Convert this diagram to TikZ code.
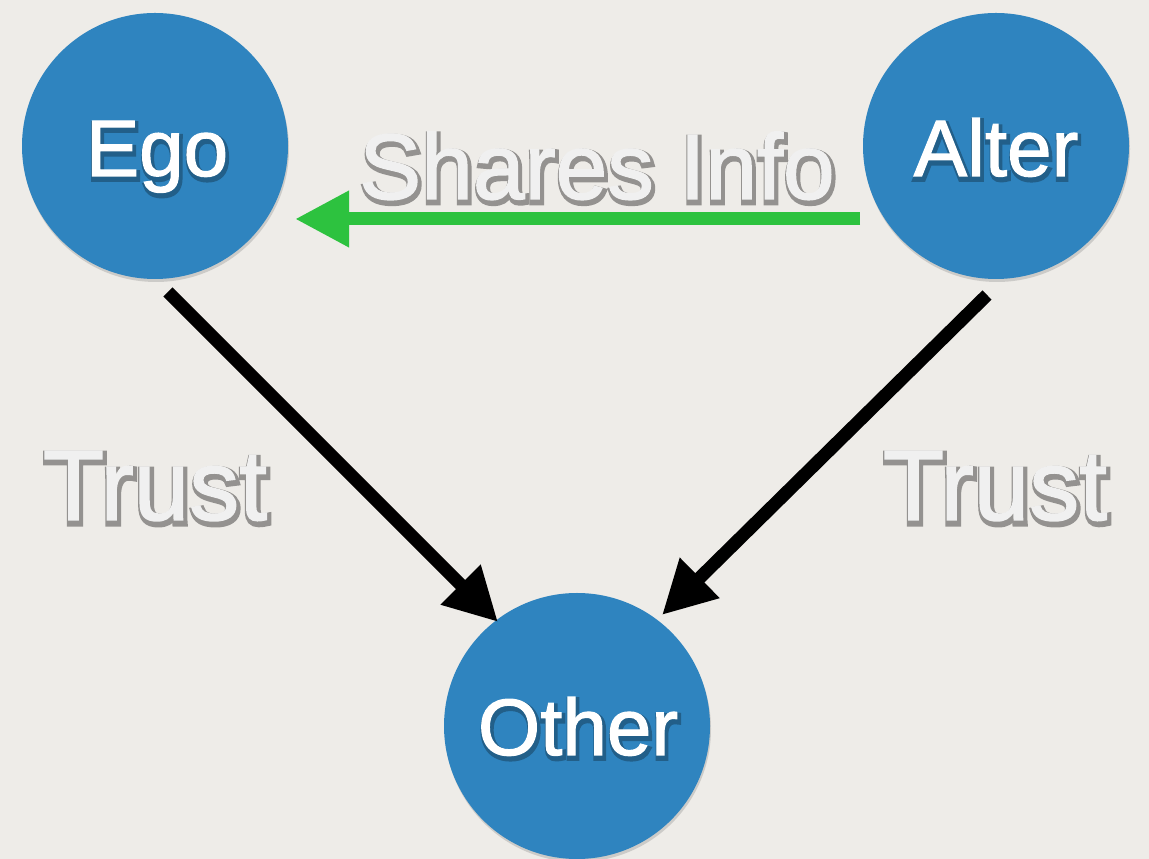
\documentclass[tikz,border=0pt]{standalone}
\usepackage{fontspec}
\setmainfont{Liberation Sans}
\newfontfamily\labelfont[FakeBold=1.5]{Liberation Sans}
\newfontfamily\haloFont[FakeBold=7]{Liberation Sans}
\usetikzlibrary{arrows.meta,shadows}
\definecolor{paper}{HTML}{EEECE8}
\definecolor{nodeblue}{HTML}{2F84BF}
\definecolor{infogreen}{HTML}{2DC23F}
\definecolor{labelgray}{HTML}{F0F0F0}
\newcommand\shadowtext[2]{%
  \rlap{\kern1.5pt\raisebox{-3pt}{\haloFont\textcolor{#1}{#2}}}%
  #2}
\tikzset{
  person/.style={circle, fill=nodeblue, minimum size=266pt, inner sep=0pt,
    drop shadow={shadow xshift=1pt, shadow yshift=-3pt, opacity=0.3}},
  namelbl/.style={anchor=base, text=white, inner sep=0pt,
    font=\labelfont\fontsize{80pt}{80pt}\selectfont},
  edgelbl/.style={anchor=base, text=labelgray, inner sep=0pt,
    font=\labelfont\fontsize{100pt}{100pt}\selectfont},
  infolbl/.style={edgelbl, font=\labelfont\fontsize{93pt}{93pt}\selectfont},
  trustarrow/.style={draw=black, line width=13pt,
    -{Triangle[length=53pt,width=53pt]}},
  infoarrow/.style={draw=infogreen, line width=13pt,
    -{Triangle[length=54pt,width=53pt]}},
}
\begin{document}
\begin{tikzpicture}[x=1pt,y=1pt]
  \fill[paper] (0,0) rectangle (1149,859);
  \useasboundingbox (0,0) rectangle (1149,859);

  \node[person] (Ego) at (155,713) {};
  \node[person] (Alter) at (996,713) {};
  \node[person] (Other) at (577,133) {};

  \node[namelbl] (egoL) at ([xshift=2pt,yshift=-30pt]Ego.center)
    {\shadowtext{nodeblue!72!black}{Ego}};
  \node[namelbl] (alterL) at ([yshift=-30pt]Alter.center)
    {\shadowtext{nodeblue!72!black}{Alter}};
  \node[namelbl] (otherL) at ([xshift=1pt,yshift=-29pt]Other.center)
    {\shadowtext{nodeblue!72!black}{Other}};

  \coordinate (egoOut) at ([shift={(13pt,-146pt)}]Ego.center);
  \coordinate (egoIn) at ([shift={(-79pt,104pt)}]Other.center);
  \coordinate (alterOut) at ([shift={(-9pt,-149pt)}]Alter.center);
  \coordinate (alterIn) at ([shift={(85pt,111pt)}]Other.center);
  \coordinate (infoOut) at ([shift={(-136pt,-73pt)}]Alter.center);
  \coordinate (infoIn) at ([shift={(140pt,-73pt)}]Ego.center);

  \draw[trustarrow] (egoOut) -- (egoIn);
  \draw[trustarrow] (alterOut) -- (alterIn);
  \draw[infoarrow] (infoOut) -- (infoIn);

  \node[infolbl] (infoL) at (597,660)
    {\shadowtext{black!38!paper}{Shares Info}};
  \node[edgelbl] (trustL) at (155,339)
    {\shadowtext{black!38!paper}{Trust}};
  \node[edgelbl] (trustR) at (995,339)
    {\shadowtext{black!38!paper}{Trust}};
\end{tikzpicture}
\end{document}
